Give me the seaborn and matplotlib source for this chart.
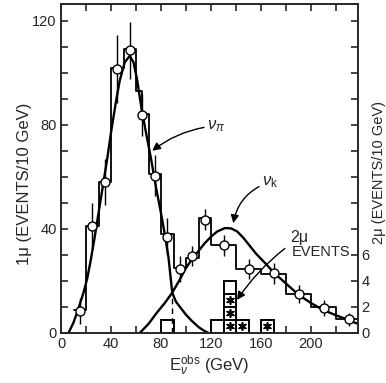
import matplotlib
matplotlib.use("Agg")
import matplotlib.pyplot as plt
import seaborn as sns

# ---------------- data ----------------
# single-muon histogram (events / 10 GeV)
hist_edges = [10, 20, 30, 40, 50, 60, 65, 70, 80, 90, 100, 110, 120, 140, 160, 180, 200, 220, 237]
hist_values = [9, 41, 58, 102, 109, 93, 84, 61, 38, 25, 29, 44, 34, 24.5, 22.5, 15, 10, 5.5]

# data points with error bars
point_energy = [15, 25, 35, 45, 55, 65, 75, 85, 95, 105, 115, 130, 150, 170, 190, 210, 230]
point_value = [8.5, 41, 58, 101.5, 108.6, 83.8, 60.5, 37, 24.6, 29.6, 43.5, 33.7, 24.6, 23, 15, 9.7, 5.3]
point_error = [5, 9, 9, 13, 11, 8, 8, 7, 5, 4, 4, 4, 4, 4, 3.5, 3, 2.5]

# nu_pi fitted curve
pi_energy = [6, 10, 14, 18, 21, 24, 27, 30, 33, 37, 40, 44, 47, 51, 55, 58, 61, 64.5, 68, 72, 76,
             80, 83, 86, 89, 92, 96, 100, 105, 110, 114, 118]
pi_value = [0, 4, 9.5, 15.5, 21, 28.5, 37, 46, 55, 67, 77, 89, 97, 104, 106.5, 104, 97, 86, 77, 67, 56,
            46, 38, 29, 15.5, 12, 9.5, 7, 4.5, 2.3, 1, 0]

# nu_K fitted curve
k_energy = [63, 70, 76.5, 83, 89, 95, 100, 105, 110, 115, 120, 125, 131, 136, 141, 146, 151, 156,
            160, 165, 170, 180, 190, 200, 210, 220, 230, 237]
k_value = [0, 3.5, 7.7, 11.5, 15.5, 20.5, 25, 28.5, 31.5, 34.5, 37, 39, 40.3, 40.2, 39, 36.5, 33.5,
           30.5, 28.5, 26, 23.3, 19, 14.7, 11.5, 8.8, 6.8, 5.0, 3.6]

crossing_energy = 89
crossing_value = 15.5

# dimuon events (right axis), one box per event
dimuon_bin_left = [80, 120, 130, 140, 160]
dimuon_counts = [1, 1, 4, 1, 1]
dimuon_starred = [0, 0, 3, 1, 1]
bin_width = 10

x_ticks = list(range(0, 240, 20))
x_tick_labels = ['0', '', '40', '', '80', '', '120', '', '160', '', '200', '']
y_ticks = list(range(0, 130, 10))
y_tick_labels = ['0', '', '', '', '40', '', '', '', '80', '', '', '', '120']
r_ticks = list(range(0, 26, 2))
r_tick_labels = ['0', '2', '4', '6'] + [''] * 9

# ---------------- style ----------------
sns.set_style("ticks")
plt.rcParams['font.family'] = ['Liberation Sans', 'DejaVu Sans']
plt.rcParams['mathtext.fontset'] = 'custom'
plt.rcParams['mathtext.rm'] = 'Liberation Sans'
plt.rcParams['mathtext.it'] = 'Liberation Sans:italic'
plt.rcParams['axes.linewidth'] = 1.2

fig = plt.figure(figsize=(3.86, 3.83), dpi=100)
ax = fig.add_axes([61 / 386, 1 - 333 / 383, 297 / 386, 329 / 383])

centers = [(a + b) / 2 for a, b in zip(hist_edges[:-1], hist_edges[1:])]
sns.histplot(x=centers, weights=hist_values, bins=hist_edges, element='step', fill=False,
             color='black', linewidth=1.3, ax=ax)

sns.lineplot(x=pi_energy, y=pi_value, color='black', linewidth=1.7, sort=False, estimator=None, ax=ax)
sns.lineplot(x=k_energy, y=k_value, color='black', linewidth=1.7, sort=False, estimator=None, ax=ax)

ax.plot([crossing_energy, crossing_energy], [0, crossing_value], color='black', lw=1.0, ls=(0, (4, 3)))

ax.errorbar(point_energy, point_value, yerr=point_error, fmt='none', ecolor='black', elinewidth=1.0, zorder=4)
sns.scatterplot(x=point_energy, y=point_value, marker='o', color='white', edgecolor='black',
                s=42, linewidth=1.0, zorder=5, ax=ax)

ax.set_xlim(0, 237.6)
ax.set_ylim(0, 126.4)
ax.set_xticks(x_ticks)
ax.set_xticklabels(x_tick_labels)
ax.set_yticks(y_ticks)
ax.set_yticklabels(y_tick_labels)
ax.tick_params(axis='both', direction='in', length=5, width=1.2, labelsize=10.5, pad=3,
               top=True, right=False)
ax.set_xlabel('')
ax.set_ylabel('')
for s in ax.spines.values():
    s.set_visible(True)
    s.set_linewidth(1.2)

# right axis for dimuon events
ax2 = ax.twinx()
ax2.set_ylim(0, 126.4 / 5)
ax2.set_yticks(r_ticks)
ax2.set_yticklabels(r_tick_labels)
ax2.tick_params(axis='y', direction='in', length=5, width=1.2, labelsize=10.5, pad=2.5)
for left, n, nstar in zip(dimuon_bin_left, dimuon_counts, dimuon_starred):
    for k in range(n):
        ax2.bar(left, 1, width=bin_width, bottom=k, align='edge', fill=False,
                edgecolor='black', linewidth=1.4)
        if k < nstar:
            ax2.scatter([left + bin_width / 2], [k + 0.5], marker=(6, 2, 0), s=28,
                        color='black', linewidths=1.2)

# labels
fig.text(25 / 386, 1 - 184 / 383, '1μ (EVENTS/10 GeV)', rotation=90, ha='center', va='center', fontsize=12)
fig.text(378.5 / 386, 1 - 172 / 383, '2μ (EVENTS/10 GeV)', rotation=90, ha='center', va='center', fontsize=10.5)
fig.text(209 / 386, 1 - 366 / 383, r'E$_{\nu}^{\rm obs}$ (GeV)', ha='center', va='center', fontsize=12)

# annotations
ax.annotate(r'$\nu_\pi$', xy=(73, 70), xytext=(117, 79.6), fontsize=12, ha='left', va='center',
            arrowprops=dict(arrowstyle='-|>', color='black', lw=1.0, mutation_scale=12,
                            shrinkA=0, shrinkB=0, connectionstyle='arc3,rad=0.15'))
ax.annotate(r'$\nu_{\rm k}$', xy=(137.8, 42.2), xytext=(161, 58), fontsize=12, ha='left', va='center',
            arrowprops=dict(arrowstyle='-|>', color='black', lw=1.0, mutation_scale=12,
                            shrinkA=0, shrinkB=0, connectionstyle='arc3,rad=0.3'))
ax.annotate('2μ', xy=(140.8, 12.7), xytext=(183.5, 36.5), fontsize=11.5, ha='left', va='center',
            arrowprops=dict(arrowstyle='-|>', color='black', lw=1.0, mutation_scale=12,
                            shrinkA=2, shrinkB=0, connectionstyle='arc3,rad=0.1'))
ax.text(184.5, 31, 'EVENTS', fontsize=10.5, ha='left', va='center')

fig.savefig('out.png', dpi=100)
